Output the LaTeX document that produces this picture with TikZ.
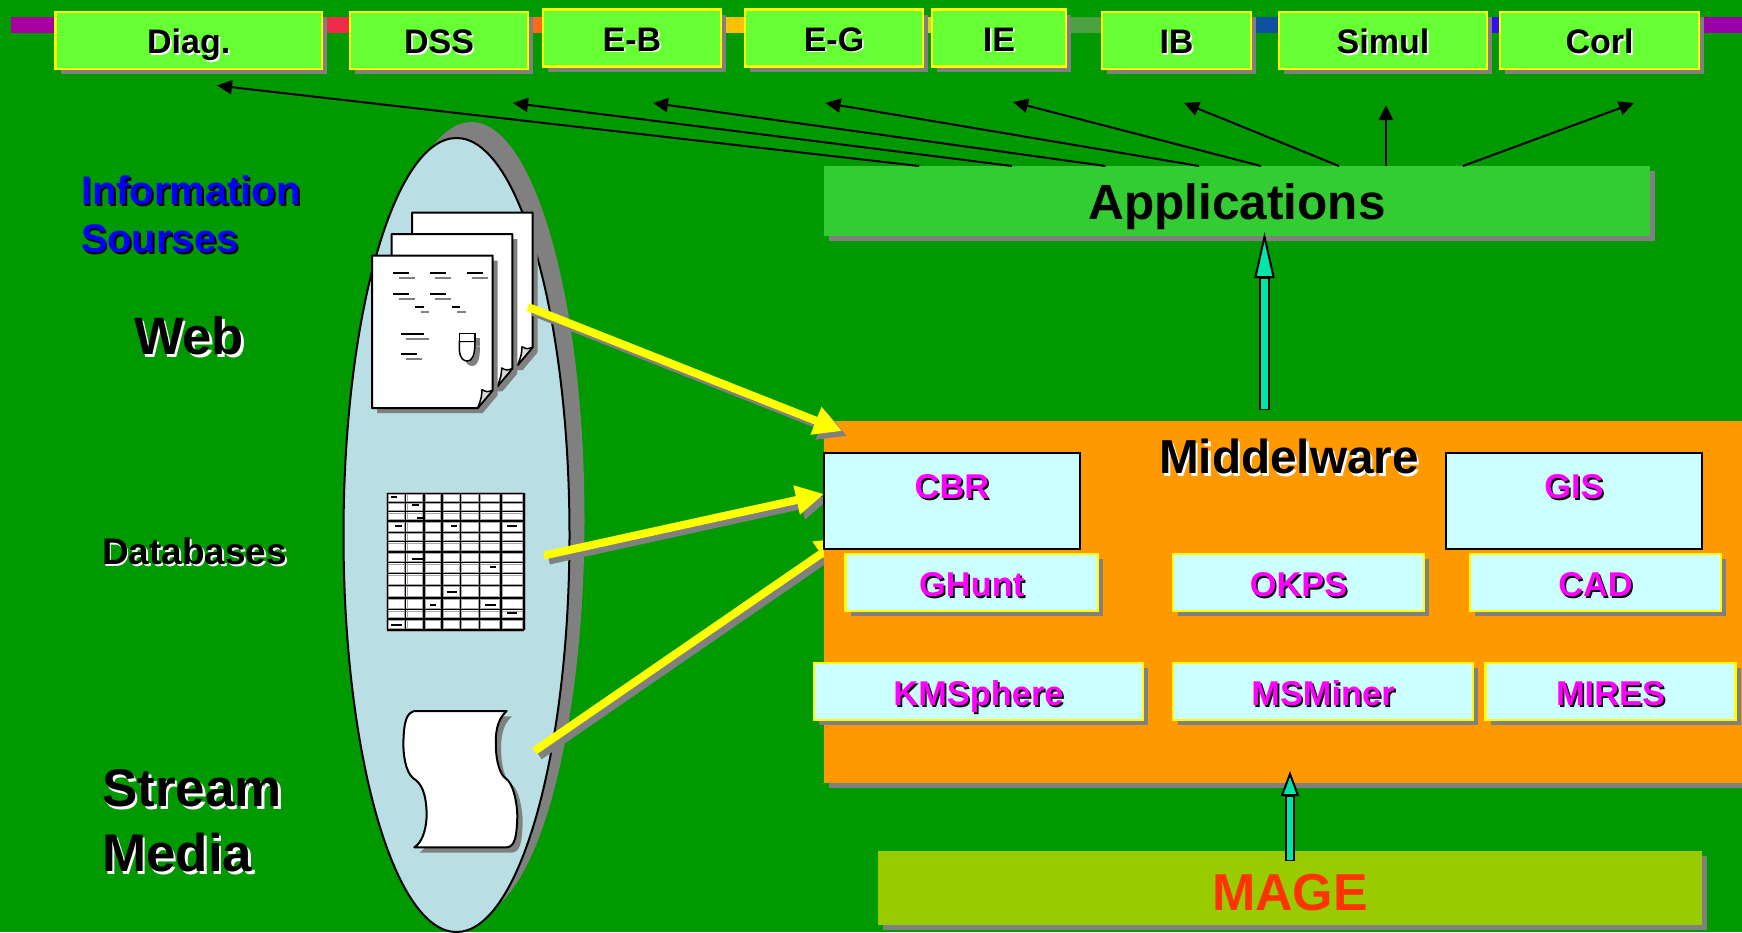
\documentclass[tikz,border=0pt]{standalone}
\usepackage{fontspec}
\setmainfont{Liberation Sans}
\usetikzlibrary{arrows.meta,shadows,shapes.geometric}
\definecolor{bgG}{HTML}{009900}
\definecolor{limeB}{HTML}{66FF33}
\definecolor{appG}{HTML}{33CC33}
\definecolor{orangeM}{HTML}{FF9900}
\definecolor{iceB}{HTML}{CCFFFF}
\definecolor{ellB}{HTML}{B9DFE4}
\definecolor{shG}{HTML}{808080}
\definecolor{tealA}{HTML}{00E6A8}
\definecolor{mageG}{HTML}{99CC00}
\definecolor{mageR}{HTML}{FF3300}
\definecolor{magT}{HTML}{FF00FF}
\definecolor{bluT}{HTML}{0000FF}
\definecolor{yelB}{HTML}{FFFF00}
\definecolor{barA}{HTML}{A800A0}
\definecolor{barB}{HTML}{EE2B4B}
\definecolor{barC}{HTML}{FF6A1A}
\definecolor{barD}{HTML}{FFC107}
\definecolor{barE}{HTML}{CCDD22}
\definecolor{barF}{HTML}{4BA040}
\definecolor{barG}{HTML}{1050A0}
\definecolor{barH}{HTML}{3010F0}
\definecolor{barI}{HTML}{9900AA}
\newcommand\sht[3]{\makebox[0pt][l]{\kern.05em\raisebox{-.05em}{\color{#1}#3}}{\color{#2}#3}}
\newcommand\fsz[1]{\fontsize{#1pt}{#1pt}\selectfont\bfseries}
\newcommand\bx[7]{%
  \pgfmathsetmacro\cxx{(#2+#4)/2}\pgfmathsetmacro\cyy{(#3+#5)/2}%
  \pgfmathsetmacro\ww{#4-#2}\pgfmathsetmacro\hh{#5-#3}%
  \node[#6,minimum width=\ww pt,minimum height=\hh pt] (#1) at (\cxx,\cyy) {#7};}
\newcommand\docpage[2]{%
  \begin{scope}[shift={(#1,#2)}]
    \fill[shG] (5,5)--(125.7,5)--(125.7,139.5)--(110.7,157.3)--(5,157.3)--cycle;
    \draw[fill=white,line width=2pt,line join=round] (0,0)--(120.7,0)--(120.7,134.5)--(105.7,152.3)--(0,152.3)--cycle;
    \draw[fill=black!15,line width=1.5pt,line join=round] (120.7,134.5) .. controls (115,136.5) .. (110,134) .. controls (109.5,142) .. (105.7,152.3) -- cycle;
  \end{scope}}
\tikzset{
  x=1pt,y=-1pt,
  topbox/.style={draw=yelB,line width=2.5pt,fill=limeB,inner sep=0pt,outer sep=0pt,text height=26pt,text depth=0pt,
    drop shadow={shadow xshift=5pt,shadow yshift=-5pt,fill=shG,opacity=1},font=\fsz{34}},
  icebox/.style={draw=yelB,line width=2.5pt,fill=iceB,inner sep=0pt,outer sep=0pt,text height=28pt,text depth=0pt,
    drop shadow={shadow xshift=5pt,shadow yshift=-5pt,fill=shG,opacity=1},font=\fsz{34.4}},
  blackbox/.style={draw=black,line width=2pt,fill=iceB,inner sep=0pt,outer sep=0pt},
  plainbox/.style={inner sep=0pt,outer sep=0pt,
    drop shadow={shadow xshift=5pt,shadow yshift=-5pt,fill=shG,opacity=1}},
  txt/.style={inner sep=0pt,outer sep=0pt},
  thinarrow/.style={line width=2pt,black,-{Triangle[length=15pt,width=14pt]}},
  yelarrow/.style={line width=8pt,yelB,-{Triangle[length=28pt,width=28pt]}},
  yelshadow/.style={line width=8pt,shG,-{Triangle[length=28pt,width=28pt]},transform canvas={xshift=5pt,yshift=-5pt}},
}
\begin{document}
\begin{tikzpicture}
\useasboundingbox (0,0) rectangle (1742,932);
\clip (0,0) rectangle (1742,932);
\fill[bgG] (0,0) rectangle (1742,932);
% colour bar
\fill[barA] (11,17) rectangle (60,33);
\fill[barB] (320,17) rectangle (355,33);
\fill[barC] (525,17) rectangle (548,33);
\fill[barD] (718,17) rectangle (750,33);
\fill[barE] (920,17) rectangle (937,33);
\fill[barF] (1063,17) rectangle (1107,33);
\fill[barG] (1248,17) rectangle (1284,33);
\fill[barH] (1484,17) rectangle (1505,33);
\fill[barI] (1696,17) rectangle (1742,33);
% top boxes
\bx{diag}{55.5}{12}{322}{69}{topbox}{\sht{white}{black}{Diag.}}
\bx{dss}{350}{12}{528}{69}{topbox}{\sht{white}{black}{DSS}}
\bx{eb}{543}{9.5}{721}{66.5}{topbox}{\sht{white}{black}{E-B}}
\bx{eg}{745}{9.5}{923}{66.5}{topbox}{\sht{white}{black}{E-G}}
\bx{ie}{932}{9.5}{1066}{66.5}{topbox}{\sht{white}{black}{IE}}
\bx{ib}{1102}{12}{1251}{69}{topbox}{\sht{white}{black}{IB}}
\bx{simul}{1279}{12}{1487}{69}{topbox}{\sht{white}{black}{Simul}}
\bx{corl}{1500}{12}{1699}{69}{topbox}{\sht{white}{black}{Corl}}
% ellipse
\fill[shG] (471.5,519) ellipse [x radius=113, y radius=397];
\node[ellipse,draw=black,line width=2pt,fill=ellB,inner sep=0pt,outer sep=0pt,minimum width=226pt,minimum height=794pt] (src) at (456.5,535) {};
% applications
\bx{apps}{824}{166}{1650}{236}{plainbox,fill=appG,font=\fsz{49.5},text height=36pt,text depth=0pt}{Applications}
% thin arrows
\foreach \n/\sx/\ex/\ey in {1/919/217/85.5,2/1012/513/103,3/1105.5/653/103,4/1199/825.5/103,5/1261/1013/102,6/1339/1184/103,7/1386/1386/105,8/1463/1634/103}{
  \coordinate (s\n) at (\sx,166);
  \coordinate (e\n) at (\ex,\ey);
  \draw[thinarrow] (s\n) -- (e\n);
}
% pages
\docpage{412}{212.7}
\docpage{391.7}{234}
\docpage{372}{255.7}
\begin{scope}[shift={(340,190)},scale=1/3]
  \foreach \a/\b/\y in {160/208/249,269/317/249,380/428/249,160/208/311,269/317/311,226/251/350,335/361/350,182/252/431,182/230/492}{
    \pgfmathsetmacro\aa{\a+16}\pgfmathsetmacro\bb{\b+16}\pgfmathsetmacro\yy{\y+16}
    \draw[shG,line width=2pt] (\aa,\yy) -- (\bb,\yy);
    \draw[black,line width=2pt] (\a,\y) -- (\b,\y);
  }
  \fill[shG] (373,445) rectangle (420,469);
  \fill[shG] (373,469) -- (373,495) .. controls (375,520) and (385,528) .. (397,528) .. controls (410,528) and (420,515) .. (420,469) -- cycle;
  \draw[line width=1.5pt,fill=white] (358,454) -- (358,480) .. controls (360,505) and (370,513) .. (382,513) .. controls (395,513) and (405,500) .. (405,454) -- cycle;
  \draw[line width=1.5pt,fill=white] (358,430) rectangle (405,454);
\end{scope}
% table
\begin{scope}[shift={(370,480)},scale=1/3]
  \fill[white] (52,40) rectangle (462,450);
  \foreach \v in {52,107,162,216,271,328,393,462}{
    \draw[shG!70,line width=1pt] (\v+4,40) -- (\v+4,450);
    \draw[shG!70,line width=1pt] (\v-4,40) -- (\v-4,450);}
  \foreach \h in {40,67,95,123,157,185,216,248,281,316,354,389,417,450}{
    \draw[shG!70,line width=1pt] (52,\h+4) -- (462,\h+4);
    \draw[shG!70,line width=1pt] (52,\h-4) -- (462,\h-4);}
  \foreach \v in {52,107,162,216,271,328,393,462}{
    \draw[black,line width=1.6pt] (\v,40) -- (\v,450);}
  \foreach \h in {40,67,95,123,157,185,216,248,281,316,354,389,417,450}{
    \draw[black,line width=1.6pt] (52,\h) -- (462,\h);}
  \foreach \a/\b/\y in {62/82/51,127/146/76,141/159/113,76/95/138,243/262/138,411/442/138,127/160/237,360/378/262,230/262/336,180/198/374,346/378/374,411/442/398,63/95/436}{
    \draw[black,line width=2pt] (\a,\y) -- (\b,\y);}
\end{scope}
% scroll
\begin{scope}[shift={(380,690)},scale=1/3]
  \def\scrollpath{(103,63) -- (380,63) .. controls (350,90) and (345,130) .. (348,180) .. controls (352,240) and (370,262) .. (378,266) .. controls (400,280) and (412,340) .. (412,380) .. controls (410,440) and (405,470) .. (380,472) -- (103,472) .. controls (130,455) and (140,410) .. (140,370) .. controls (138,310) and (125,280) .. (100,265) .. controls (75,245) and (70,190) .. (70,160) .. controls (72,90) and (80,70) .. (103,63) -- cycle}
  \fill[shG,shift={(16,16)}] \scrollpath;
  \draw[fill=white,line width=2pt,line join=round] \scrollpath;
\end{scope}
% yellow arrows under the middleware block
\coordinate (y1s) at (528,307); \coordinate (y1e) at (842,431);
\coordinate (y2s) at (544,555.5); \coordinate (y2e) at (824,494);
\coordinate (y3s) at (534.5,751); \coordinate (y3e) at (844,538);
\draw[yelshadow] (y2s) -- (y2e);
\draw[yelshadow] (y3s) -- (y3e);
\draw[yelarrow] (y2s) -- (y2e);
\draw[yelarrow] (y3s) -- (y3e);
% middleware
\bx{mid}{824}{421}{1747}{783}{plainbox,fill=orangeM}{}
\draw[yelshadow] (y1s) -- (y1e);
\draw[yelarrow] (y1s) -- (y1e);
\node[txt,font=\fsz{47.7}] (midt) at (1289,458) {\sht{white}{black}{Middelware}};
\bx{cbr}{824}{453}{1080}{549}{blackbox}{}
\bx{gis}{1445.5}{453}{1702}{549}{blackbox}{}
\node[txt,font=\fsz{34.4}] (cbrt) at (952,488) {\sht{black}{magT}{CBR}};
\node[txt,font=\fsz{34.4}] (gist) at (1574,488) {\sht{black}{magT}{GIS}};
\bx{ghunt}{845.5}{554}{1098}{611}{icebox}{\sht{black}{magT}{GHunt}}
\bx{okps}{1173}{554}{1424}{611}{icebox}{\sht{black}{magT}{OKPS}}
\bx{cad}{1470}{554}{1721}{611}{icebox}{\sht{black}{magT}{CAD}}
\bx{kms}{814}{663}{1143}{720}{icebox}{\sht{black}{magT}{KMSphere}}
\bx{msm}{1173}{663}{1473}{720}{icebox}{\sht{black}{magT}{MSMiner}}
\bx{mires}{1485.5}{663}{1735.5}{720}{icebox}{\sht{black}{magT}{MIRES}}
% mage
\bx{mage}{878}{851}{1702}{925}{plainbox,fill=mageG,font=\fsz{52},text=mageR,text height=45pt,text depth=0pt}{MAGE}
% teal arrows
\coordinate (ta1) at (1264.5,410); \coordinate (tb1) at (1264.5,232); \coordinate (tc1) at (1264.5,279);
\draw[line width=10.5pt,black,-{Triangle[length=46pt,width=20pt,line width=2pt,fill=tealA]}] (ta1) -- (tb1);
\coordinate (ta0) at (1264.5,408.5);
\draw[line width=6.5pt,tealA] (ta0) -- (tc1);
\coordinate (ta2) at (1290,861); \coordinate (tb2) at (1290,771); \coordinate (tc2) at (1290,797);
\draw[line width=10pt,black,-{Triangle[length=25pt,width=18pt,line width=2pt,fill=tealA]}] (ta2) -- (tb2);
\coordinate (ta3) at (1290,859.5);
\draw[line width=6pt,tealA] (ta3) -- (tc2);
% left labels
\node[txt,anchor=west,font=\fsz{39.9}] (info1) at (81,191) {\sht{black}{bluT}{Information}};
\node[txt,anchor=west,font=\fsz{39.9}] (info2) at (81,240) {\sht{black}{bluT}{Sourses}};
\node[txt,anchor=west,font=\fsz{52.6}] (web) at (134,337) {\sht{white}{black}{Web}};
\node[txt,anchor=west,font=\fsz{37}] (db) at (102,552) {\sht{white}{black}{Databases}};
\node[txt,anchor=west,font=\fsz{53}] (st1) at (102,790) {\sht{white}{black}{Stream}};
\node[txt,anchor=west,font=\fsz{53}] (st2) at (102,854) {\sht{white}{black}{Media}};
\end{tikzpicture}
\end{document}
